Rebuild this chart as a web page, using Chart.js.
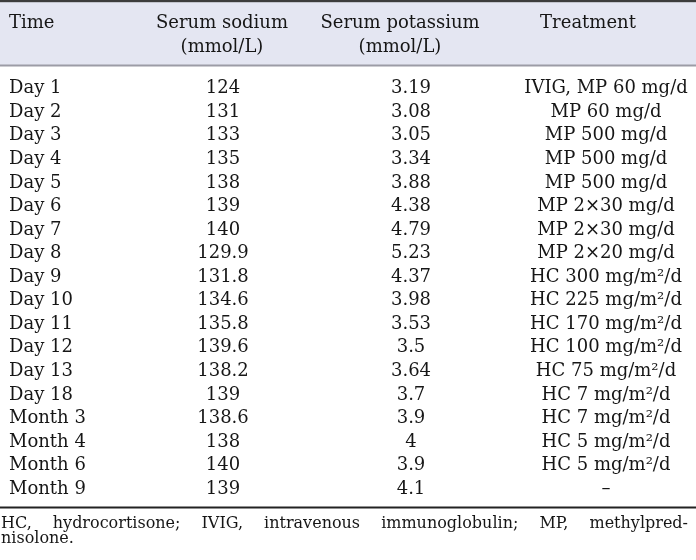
<!DOCTYPE html>
<html>
<head>
<meta charset="utf-8">
<script src="https://cdn.jsdelivr.net/npm/chart.js@4"></script>
<style>
  html, body { margin:0; padding:0; background:#fff; }
  #wrap { width:696px; height:560px; position:relative; }
</style>
</head>
<body>
<div id="wrap"><canvas id="tbl"></canvas></div>
<script>
// ── Table data ─────────────────────────────────────────────
const times = ['Day 1','Day 2','Day 3','Day 4','Day 5','Day 6','Day 7','Day 8','Day 9','Day 10',
  'Day 11','Day 12','Day 13','Day 18','Month 3','Month 4','Month 6','Month 9'];
const sodium    = [124, 131, 133, 135, 138, 139, 140, 129.9, 131.8, 134.6, 135.8, 139.6, 138.2, 139, 138.6, 138, 140, 139];
const potassium = [3.19, 3.08, 3.05, 3.34, 3.88, 4.38, 4.79, 5.23, 4.37, 3.98, 3.53, 3.5, 3.64, 3.7, 3.9, 4, 3.9, 4.1];
const treatments = ['IVIG, MP 60 mg/d','MP 60 mg/d','MP 500 mg/d','MP 500 mg/d','MP 500 mg/d','MP 2×30 mg/d',
  'MP 2×30 mg/d','MP 2×20 mg/d','HC 300 mg/m²/d','HC 225 mg/m²/d','HC 170 mg/m²/d','HC 100 mg/m²/d',
  'HC 75 mg/m²/d','HC 7 mg/m²/d','HC 7 mg/m²/d','HC 5 mg/m²/d','HC 5 mg/m²/d','–'];
const headTime      = ['Time'];
const headSodium    = ['Serum sodium', '(mmol/L)'];
const headPotassium = ['Serum potassium', '(mmol/L)'];
const headTreatment = ['Treatment'];
const footnote = ['HC, hydrocortisone; IVIG, intravenous immunoglobulin; MP, methylpred-', 'nisolone.'];

// ── Layout ─────────────────────────────────────────────────
const FONT   = '"DejaVu Serif", "Liberation Serif", serif';
const INK    = '#161616';
const COL    = { time: 9, sodium: 223, potassium: 411, treatment: 606 };   // cell anchors
const HEAD_X = { time: 9, sodium: 222, potassium: 400, treatment: 588 };   // header anchors

function drawJustified(ctx, text, x0, x1, yb) {
  const words = text.split(' ');
  const widths = words.map(w => ctx.measureText(w).width);
  const gap = (x1 - x0 - widths.reduce((s, w) => s + w, 0)) / (words.length - 1);
  let x = x0;
  words.forEach((w, i) => { ctx.fillText(w, x, yb); x += widths[i] + gap; });
}

const tablePlugin = {
  id: 'tableText',
  afterDatasetsDraw(chart) {
    const { ctx, chartArea, scales: { x, y } } = chart;
    const step = y.getPixelForValue(1) - y.getPixelForValue(0);
    const top = chartArea.top, bottom = chartArea.bottom;
    ctx.save();

    // header band + rules
    ctx.fillStyle = '#e4e6f2';
    ctx.fillRect(0, 2, chart.width, top - 12);
    ctx.fillStyle = '#3c3c3c';
    ctx.fillRect(0, 0, chart.width, 2.2);
    ctx.fillStyle = '#9c9ca6';
    ctx.fillRect(0, top - 10.5, chart.width, 2);
    ctx.fillStyle = '#222';
    ctx.fillRect(0, bottom + 7.5, chart.width, 2);

    // header text
    ctx.fillStyle = INK;
    ctx.font = '18px ' + FONT;
    ctx.textBaseline = 'alphabetic';
    const hb1 = y.getPixelForValue(0) + 6.5 - step * 2.77;
    const heads = [[headTime, 'time', 'left'], [headSodium, 'sodium', 'center'],
                   [headPotassium, 'potassium', 'center'], [headTreatment, 'treatment', 'center']];
    heads.forEach(([lines, key, align]) => {
      ctx.textAlign = align;
      lines.forEach((t, i) => ctx.fillText(t, x.getPixelForValue(HEAD_X[key]), hb1 + i * step));
    });

    // body cells, positioned from the dataset elements
    chart.data.datasets.forEach((ds, di) => {
      const meta = chart.getDatasetMeta(di);
      ctx.textAlign = ds.align;
      meta.data.forEach((pt, j) => ctx.fillText(String(ds.data[j].text), pt.x, pt.y + 6.5));
    });

    // footnote
    ctx.font = '16px ' + FONT;
    ctx.textAlign = 'left';
    drawJustified(ctx, footnote[0], 1, 688, bottom + 28.5);
    ctx.fillText(footnote[1], 1, bottom + 44);
    ctx.restore();
  }
};

const cells = (key, vals, align) => ({
  label: key, align,
  data: vals.map((v, i) => ({ x: COL[key], y: times[i], text: v })),
});

new Chart(document.getElementById('tbl'), {
  type: 'scatter',
  data: {
    datasets: [
      cells('time', times, 'left'),
      cells('sodium', sodium, 'center'),
      cells('potassium', potassium, 'center'),
      cells('treatment', treatments, 'center'),
    ]
  },
  options: {
    responsive: true, maintainAspectRatio: false, animation: false, events: [],
    layout: { autoPadding: false, padding: { top: 75, bottom: 61, left: 0, right: 0 } },
    elements: { point: { radius: 0, hoverRadius: 0, borderWidth: 0 } },
    plugins: { legend: { display: false }, tooltip: { enabled: false } },
    scales: {
      x: { type: 'linear', min: 0, max: 696, display: false },
      y: { type: 'category', labels: times, offset: true, display: false },
    }
  },
  plugins: [tablePlugin]
});
</script>
</body>
</html>
